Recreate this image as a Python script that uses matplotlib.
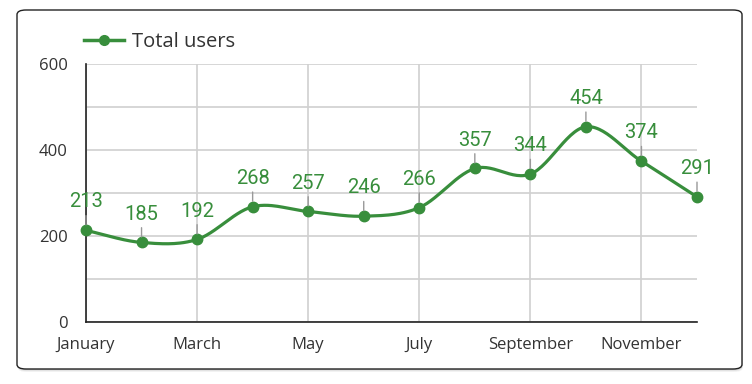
import numpy as np
import matplotlib
matplotlib.use("Agg")
import matplotlib.pyplot as plt
from matplotlib.patches import FancyBboxPatch

# monthly totals
months = ["January", "February", "March", "April", "May", "June",
          "July", "August", "September", "October", "November", "December"]
users = [213, 185, 192, 268, 257, 246, 266, 357, 344, 454, 374, 291]
yticks = [0, 200, 400, 600]

green = "#388E3C"
W, H = 752, 384

fig = plt.figure(figsize=(W / 100, H / 100), dpi=100)

# card with soft shadow (kept below the axes)
for off, alpha in [(3, 0.10), (2, 0.15), (1, 0.25)]:
    fig.patches.append(FancyBboxPatch(
        ((17 + off * 0.3) / W, (384 - 369 - off) / H), 725 / W, 359 / H,
        boxstyle="round,pad=0,rounding_size=0.012", transform=fig.transFigure,
        facecolor="#888888", edgecolor="none", alpha=alpha, zorder=-3))
fig.patches.append(FancyBboxPatch(
    (17 / W, (384 - 369) / H), 725 / W, 359 / H,
    boxstyle="round,pad=0,rounding_size=0.012", transform=fig.transFigure,
    facecolor="white", edgecolor="#222222", linewidth=1.0, zorder=-2))

ax = fig.add_axes([86 / W, (384 - 322) / H, 611 / W, 258 / H])
ax.set_facecolor("none")

x = np.arange(len(users))
y = np.array(users, dtype=float)

# catmull-rom style smoothing between the points
def smooth(xs, ys, n=30):
    px, py = [], []
    m = np.zeros_like(ys)
    m[1:-1] = (ys[2:] - ys[:-2]) / 2
    m[0] = ys[1] - ys[0]
    m[-1] = ys[-1] - ys[-2]
    for i in range(len(xs) - 1):
        t = np.linspace(0, 1, n)
        h00 = 2 * t**3 - 3 * t**2 + 1
        h10 = t**3 - 2 * t**2 + t
        h01 = -2 * t**3 + 3 * t**2
        h11 = t**3 - t**2
        px.extend(xs[i] + t)
        py.extend(h00 * ys[i] + h10 * m[i] + h01 * ys[i + 1] + h11 * m[i + 1])
    return np.array(px), np.array(py)

sx, sy = smooth(x, y)
ax.plot(sx, sy, color=green, lw=2.3, zorder=3, solid_capstyle="round", clip_on=False)
ax.plot(x, y, "o", color=green, ms=7.5, zorder=4, clip_on=False)

for xi, yi in zip(x, users):
    ax.annotate(str(yi), xy=(xi, yi), xytext=(0, 16.5), textcoords="offset points",
                ha="center", va="baseline", color=green, fontsize=14.5,
                family="Roboto", zorder=5,
                arrowprops=dict(arrowstyle="-", color="#999999", lw=1.0,
                                shrinkA=1, shrinkB=4))

ax.set_xlim(0, 11)
ax.set_ylim(0, 600)
ax.set_yticks(yticks)
ax.set_yticks(range(0, 601, 100), minor=True)
ax.set_xticks(x[::2])
ax.set_xticklabels(months[::2])
ax.grid(True, which="both", axis="y", color="#d0d0d0", lw=1.2)
ax.grid(True, axis="x", color="#d0d0d0", lw=1.2)
ax.set_axisbelow(True)
ax.tick_params(which="both", length=0)
ax.tick_params(axis="y", pad=13, labelsize=12, labelcolor="#333333")
ax.tick_params(axis="x", pad=10.5, labelsize=12, labelcolor="#333333")
for lab in ax.get_xticklabels() + ax.get_yticklabels():
    lab.set_family("Open Sans")
for s in ["top", "right"]:
    ax.spines[s].set_visible(False)
for s in ["left", "bottom"]:
    ax.spines[s].set_color("#222222")
    ax.spines[s].set_linewidth(1.2)

leg = fig.legend([plt.Line2D([], [], color=green, lw=2.5, marker="o", ms=7)],
                 ["Total users"], loc="center left",
                 bbox_to_anchor=(84 / W, 1 - 42 / H),
                 frameon=False, borderpad=0, borderaxespad=0,
                 handlelength=2.0, handletextpad=0.4,
                 prop={"family": "Open Sans", "size": 14.5})
for t in leg.get_texts():
    t.set_color("#333333")

fig.savefig("out.png", dpi=100)
